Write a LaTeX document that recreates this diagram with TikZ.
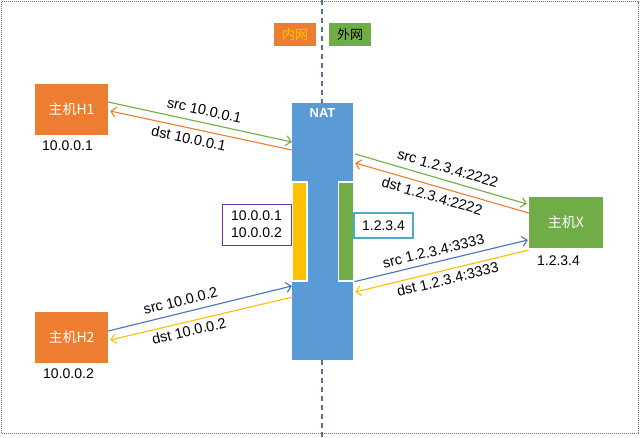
\documentclass[tikz,border=0pt]{standalone}
\usepackage{fontspec}
\setmainfont{Liberation Sans}
\newfontfamily\cjk{Noto Sans CJK SC}
\usetikzlibrary{arrows.meta}
\definecolor{cOrange}{HTML}{ED7D31}
\definecolor{cGreen}{HTML}{70AD47}
\definecolor{cBlue}{HTML}{5B9BD5}
\definecolor{cYellow}{HTML}{FFC000}
\definecolor{cPurple}{HTML}{7030A0}
\definecolor{cCyan}{HTML}{4BACC6}
\definecolor{cLine}{HTML}{4472C4}
\definecolor{cDash}{HTML}{5A6E96}
\tikzset{
  host/.style={rectangle, minimum width=73pt, minimum height=51pt, inner sep=0pt,
    text=white, font=\cjk\fontsize{14}{17}\selectfont},
  tag/.style={rectangle, minimum width=42pt, minimum height=23pt, inner sep=0pt,
    font=\cjk\fontsize{13}{15}\selectfont},
  bar/.style={rectangle, draw=white, line width=1.2pt, minimum width=15pt, minimum height=99pt, inner sep=0pt},
  ip/.style={font=\fontsize{14}{17}\selectfont, inner sep=0pt, align=center, text=black},
  lbl/.style={font=\fontsize{14.5}{17}\selectfont, sloped, inner sep=1.5pt, text=black},
  conn/.style={line width=1.1pt, -{Straight Barb[length=5pt,width=10pt,line width=1.1pt]}},
}
\begin{document}
\begin{tikzpicture}[x=1pt,y=-1pt]
\useasboundingbox (0,0) rectangle (640,437);
% outer border
\draw[black!55, line width=0.8pt, dash pattern=on 1pt off 1pt] (1.5,1.5) rectangle (638.5,433.5);
% dividing dashed line
\coordinate (divtop) at (322,0);
\coordinate (divbot) at (322,437);
\draw[cDash, line width=1.5pt, dash pattern=on 5pt off 4pt] (divtop) -- (divbot);
% tags
\node[tag, fill=cOrange, text=cYellow] (inner) at (295,34.5) {内网};
\node[tag, fill=cGreen, text=black] (outer) at (350,34.5) {外网};
% NAT
\node[rectangle, fill=cBlue, minimum width=61pt, minimum height=257pt, inner sep=0pt] (nat) at (322.5,231.5) {};
\node[text=white, font=\bfseries\fontsize{13}{15}\selectfont, inner sep=0pt] (natlabel) at (322.5,113) {NAT};
\node[bar, fill=cYellow] (ybar) at (299.5,231.5) {};
\node[bar, fill=cGreen] (gbar) at (346,231.5) {};
% hosts
\node[host, fill=cOrange] (h1) at (71.5,109.5) {主机H1};
\node[host, fill=cOrange] (h2) at (71.5,337.5) {主机H2};
\node[host, fill=cGreen, minimum width=74pt] (hx) at (566,222.5) {主机X};
\node[ip] (h1ip) at (67.5,146) {10.0.0.1};
\node[ip] (h2ip) at (68.5,374) {10.0.0.2};
\node[ip] (hxip) at (558.5,261) {1.2.3.4};
% address boxes
\node[ip, draw=cPurple, line width=1pt, minimum width=69pt, minimum height=41pt] (inaddr) at (256.5,224.5) {10.0.0.1\\10.0.0.2};
\node[ip, draw=cCyan, line width=1.2pt, minimum width=59pt, minimum height=25pt] (outaddr) at (383.5,225.5) {1.2.3.4};
% connectors H1
\draw[conn, cGreen] ([yshift=7.5pt]h1.east) -- node[lbl, above=5pt, pos=0.51]{src 10.0.0.1} ([yshift=89.5pt]nat.west);
\draw[conn, cOrange] ([yshift=81.5pt]nat.west) -- node[lbl, below=3pt, pos=0.555]{dst 10.0.0.1} ([xshift=2pt,yshift=-1.5pt]h1.east);
% connectors X 2222
\draw[conn, cGreen] ([xshift=2pt,yshift=77.5pt]nat.east) -- node[lbl, above=5pt, pos=0.52]{src 1.2.3.4:2222} ([xshift=-2pt,yshift=18.5pt]hx.west);
\draw[conn, cOrange] ([yshift=9.5pt]hx.west) -- node[lbl, below=3pt, pos=0.54]{dst 1.2.3.4:2222} ([xshift=2pt,yshift=68.5pt]nat.east);
% connectors X 3333
\draw[conn, cLine] ([xshift=0.5pt]gbar.south east) -- node[lbl, above=4pt, pos=0.47]{src 1.2.3.4:3333} ([xshift=-1pt,yshift=-17.5pt]hx.west);
\draw[conn, cYellow] ([yshift=-27.5pt]hx.west) -- node[lbl, below=2pt, pos=0.48]{dst 1.2.3.4:3333} ([xshift=2pt,yshift=-60.5pt]nat.east);
% connectors H2
\draw[conn, cLine] ([yshift=6.5pt]h2.east) -- node[lbl, above=5pt, pos=0.41]{src 10.0.0.2} ([yshift=-54.5pt]nat.west);
\draw[conn, cYellow] ([xshift=1pt,yshift=-65.5pt]nat.west) -- node[lbl, below=2pt, pos=0.58]{dst 10.0.0.2} ([xshift=2pt,yshift=-2.5pt]h2.east);
\end{tikzpicture}
\end{document}
